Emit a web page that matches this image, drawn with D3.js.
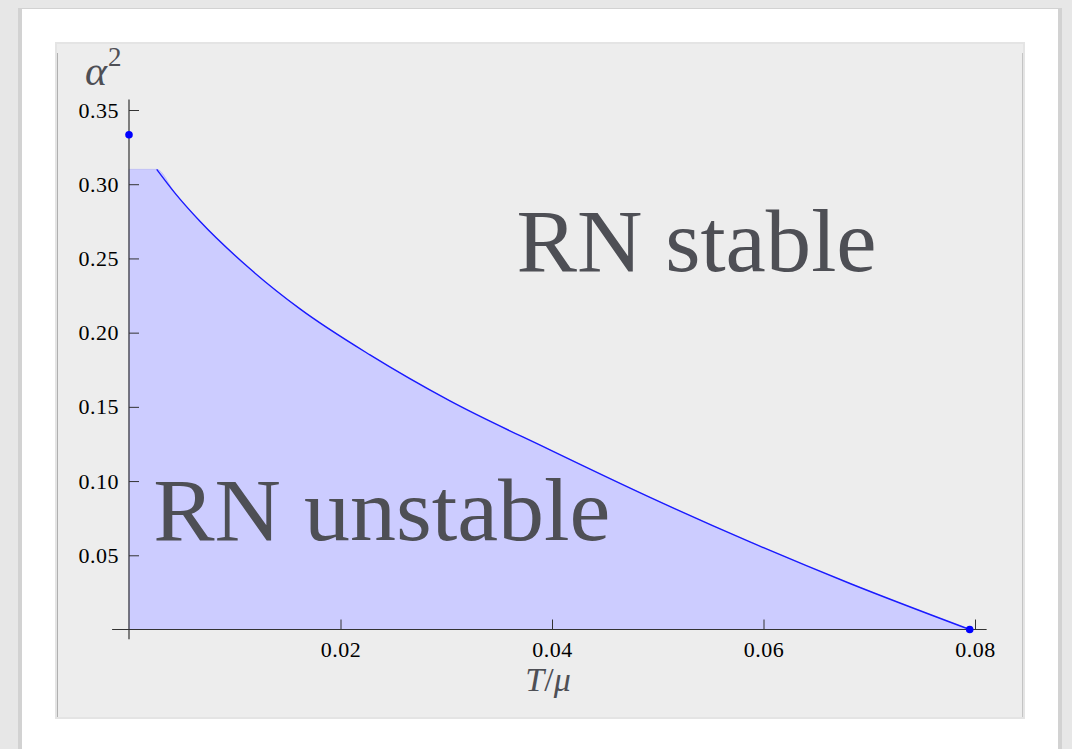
<!DOCTYPE html>
<html>
<head>
<meta charset="utf-8">
<script src="https://cdn.jsdelivr.net/npm/d3@7"></script>
<style>
  html, body { margin: 0; padding: 0; background: #e7e7e7; }
  svg { display: block; }
  .tick text { font-family: "Liberation Serif", serif; font-size: 22px; fill: #000; letter-spacing: 0.5px; }
  .tick line { stroke: #333; }
  .big { font-family: "Liberation Serif", serif; fill: #4e4f55; }
</style>
</head>
<body>
<svg id="chart" width="1072" height="749"></svg>
<script>
// boundary of the unstable region, T/mu vs alpha^2
const boundaryT  = [0, 0.00262, 0.00435, 0.00671, 0.01144, 0.01617, 0.02279, 0.03035, 0.03981, 0.04927, 0.05872, 0.06818, 0.0795];
const boundaryA2 = [0.310, 0.310, 0.294, 0.275, 0.243, 0.216, 0.185, 0.154, 0.121, 0.089, 0.059, 0.031, 0.0];
// the two marked points
const markT  = [0, 0.0795];
const markA2 = [0.3333, 0];

const xMajor = [0.02, 0.04, 0.06, 0.08];
const xMinor = [0.005, 0.01, 0.015, 0.025, 0.03, 0.035, 0.045, 0.05, 0.055, 0.065, 0.07, 0.075];
const yMajor = [0.05, 0.10, 0.15, 0.20, 0.25, 0.30, 0.35];
const yMinor = d3.range(1, 36).map(i => i / 100).filter(v => Math.round(v * 100) % 5 !== 0);

const svg = d3.select("#chart");

// paper card and the grey plot panel
svg.append("rect").attr("x", 18).attr("y", 8).attr("width", 1044).attr("height", 760)
    .attr("fill", "#d2d2d2");
svg.append("rect").attr("x", 22).attr("y", 9).attr("width", 1036).attr("height", 760)
    .attr("fill", "#ffffff");
svg.append("rect").attr("x", 55).attr("y", 42).attr("width", 970).attr("height", 677)
    .attr("fill", "#e4e4e4");
svg.append("rect").attr("x", 57).attr("y", 44).attr("width", 966).attr("height", 673)
    .attr("fill", "#ededed");
svg.append("line").attr("x1", 57.5).attr("x2", 57.5).attr("y1", 53).attr("y2", 717)
    .attr("stroke", "#b0b0b0");
svg.append("line").attr("x1", 1022.5).attr("x2", 1022.5).attr("y1", 53).attr("y2", 717)
    .attr("stroke", "#c4c4c4");

const x = d3.scaleLinear().domain([0, 0.08]).range([129, 975]);
const y = d3.scaleLinear().domain([0, 0.35]).range([629.5, 110]);

const pts = boundaryT.map((t, i) => [t, boundaryA2[i]]);

// shaded unstable region
const area = d3.area()
    .x(d => x(d[0]))
    .y0(y(0))
    .y1(d => y(d[1]))
    .curve(d3.curveMonotoneX);
svg.append("path")
    .datum(pts)
    .attr("d", area)
    .attr("fill", "#ccccff")
    .attr("stroke", "#bcbcf4")
    .attr("stroke-width", 0.8);

// boundary line (starts at the plateau corner)
const line = d3.line()
    .x(d => x(d[0]))
    .y(d => y(d[1]))
    .curve(d3.curveMonotoneX);
svg.append("path")
    .datum(pts.slice(1))
    .attr("d", line)
    .attr("fill", "none")
    .attr("stroke", "#1a1aff")
    .attr("stroke-width", 1.4);

// region labels
svg.append("text").attr("class", "big")
    .attr("x", x(0.03665)).attr("y", y(0.2415))
    .attr("font-size", 88)
    .attr("textLength", 360).attr("lengthAdjust", "spacingAndGlyphs")
    .text("RN stable");
svg.append("text").attr("class", "big")
    .attr("x", x(0.0023)).attr("y", y(0.0603))
    .attr("font-size", 88)
    .attr("textLength", 457).attr("lengthAdjust", "spacingAndGlyphs")
    .text("RN unstable");

// axes: ticks pointing into the plot
const gx = svg.append("g").attr("transform", `translate(0,${y(0)})`);
gx.call(d3.axisBottom(x).tickValues(xMinor).tickSizeInner(-6.5).tickSizeOuter(0).tickFormat(""));
gx.call(d3.axisBottom(x).tickValues(xMajor).tickSizeInner(-10).tickSizeOuter(0).tickPadding(12)
    .tickFormat(d3.format(".2f")));
gx.selectAll(".domain").remove();

const gy = svg.append("g").attr("transform", `translate(${x(0)},0)`);
gy.call(d3.axisLeft(y).tickValues(yMinor).tickSizeInner(-6.5).tickSizeOuter(0).tickFormat(""));
gy.call(d3.axisLeft(y).tickValues(yMajor).tickSizeInner(-10).tickSizeOuter(0).tickPadding(10)
    .tickFormat(d3.format(".2f")));
gy.selectAll(".domain").remove();

// axis lines, extended a little past the origin
svg.append("line")
    .attr("x1", x(-0.0016)).attr("x2", x(0.0811))
    .attr("y1", y(0)).attr("y2", y(0))
    .attr("stroke", "#333").attr("stroke-width", 1.2);
svg.append("line")
    .attr("x1", x(0)).attr("x2", x(0))
    .attr("y1", y(-0.0065)).attr("y2", y(0.357))
    .attr("stroke", "#333").attr("stroke-width", 1.2);

// marked points
svg.append("g").selectAll("circle")
    .data(markT.map((t, i) => [t, markA2[i]]))
    .join("circle")
    .attr("cx", d => x(d[0]))
    .attr("cy", d => y(d[1]))
    .attr("r", 3.8)
    .attr("fill", "#0000ff");

// axis titles
const xt = svg.append("text").attr("class", "big")
    .attr("x", 548).attr("y", 691)
    .attr("text-anchor", "middle")
    .attr("font-size", 34);
xt.append("tspan").attr("font-style", "italic").text("T");
xt.append("tspan").text("/");
xt.append("tspan").attr("font-style", "italic").text("μ");

const yt = svg.append("text").attr("class", "big")
    .attr("x", 85).attr("y", 85)
    .attr("font-size", 42);
yt.append("tspan").attr("font-style", "italic").text("α");
yt.append("tspan").attr("font-size", 27).attr("dy", -19).attr("dx", 1).text("2");
</script>
</body>
</html>
